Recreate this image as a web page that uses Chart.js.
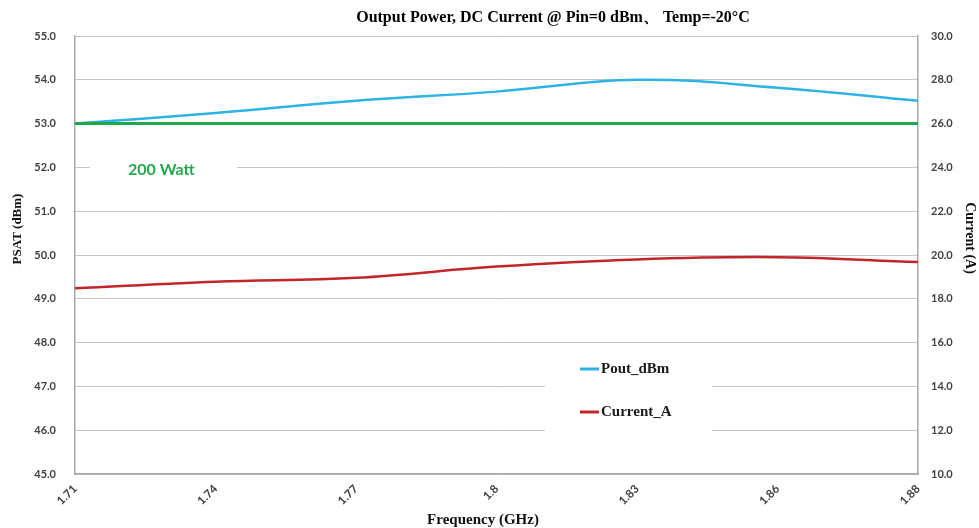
<!DOCTYPE html>
<html>
<head>
<meta charset="utf-8">
<script src="https://cdn.jsdelivr.net/npm/chart.js@4.4.1/dist/chart.umd.min.js"></script>
<style>
  html, body { margin: 0; padding: 0; background: #fff; }
  #wrap { width: 979px; height: 528px; position: relative; }
</style>
</head>
<body>
<div id="wrap"><canvas id="powerChart"></canvas></div>
<script>
const freqLabels = ["1.71", "1.74", "1.77", "1.8", "1.83", "1.86", "1.88"];
const poutDbm = [53.0, 53.24, 53.52, 53.73, 54.0, 53.82, 53.52];
const currentA = [18.48, 18.78, 18.96, 19.47, 19.8, 19.9, 19.68];
const watt200 = [53.0, 53.0, 53.0, 53.0, 53.0, 53.0, 53.0];

const titleText = "Output Power, DC Current @ Pin=0 dBm\u3001 Temp=-20\u00b0C";
const xTitle = "Frequency (GHz)";
const yTitle = "PSAT (dBm)";
const y1Title = "Current (A)";
const serif = "'Liberation Serif', 'DejaVu Serif', serif";
const sans = "Lato, 'Open Sans', sans-serif";

// titles, "200 Watt" note and in-plot legend
const overlayPlugin = {
  id: "overlay",
  afterDraw: function (chart) {
    let ctx = chart.ctx;
    ctx.save();
    ctx.textBaseline = "middle";

    ctx.fillStyle = "#000";
    ctx.font = "bold 16px " + serif;
    ctx.textAlign = "center";
    ctx.fillText(titleText, 553, 18);

    ctx.fillStyle = "#111";
    ctx.font = "bold 15px " + serif;
    ctx.fillText(xTitle, 483, 520);

    ctx.font = "bold 13px " + serif;
    ctx.save();
    ctx.translate(18, 229);
    ctx.rotate(-Math.PI / 2);
    ctx.fillText(yTitle, 0, 0);
    ctx.restore();

    ctx.font = "bold 14px " + serif;
    ctx.save();
    ctx.translate(970, 238);
    ctx.rotate(Math.PI / 2);
    ctx.fillText(y1Title, 0, 0);
    ctx.restore();

    // note box
    ctx.fillStyle = "#fff";
    ctx.fillRect(90, 156, 147, 26);
    ctx.fillStyle = "#22a84a";
    ctx.font = "bold 16px " + sans;
    ctx.textAlign = "left";
    ctx.fillText("200 Watt", 128, 170);

    // legend box
    ctx.fillStyle = "#fff";
    ctx.fillRect(545, 350, 167, 90);
    let items = chart.data.datasets.filter(function (d) { return !d.hideInLegend; });
    ctx.font = "bold 15px " + serif;
    items.forEach(function (d, i) {
      let y = 369 + i * 43;
      ctx.strokeStyle = d.borderColor;
      ctx.lineWidth = 3;
      ctx.beginPath();
      ctx.moveTo(580, y);
      ctx.lineTo(599, y);
      ctx.stroke();
      ctx.fillStyle = "#1a1a1a";
      ctx.fillText(d.label, 601, y);
    });
    ctx.restore();
  },
};

let ctx = document.getElementById("powerChart").getContext("2d");
let chart = new Chart(ctx, {
  type: "line",
  data: {
    labels: freqLabels,
    datasets: [
      {
        label: "Pout_dBm",
        data: poutDbm,
        yAxisID: "y",
        borderColor: "#2eb2e4",
        borderWidth: 2.5,
        pointRadius: 0,
        tension: 0.4,
        order: 2,
      },
      {
        label: "Current_A",
        data: currentA,
        yAxisID: "y1",
        borderColor: "#c0262c",
        borderWidth: 2.5,
        pointRadius: 0,
        tension: 0.4,
        order: 2,
      },
      {
        label: "200 Watt",
        data: watt200,
        yAxisID: "y",
        borderColor: "#1fa84c",
        borderWidth: 3,
        pointRadius: 0,
        hideInLegend: true,
        order: 1,
      },
    ],
  },
  options: {
    responsive: true,
    maintainAspectRatio: false,
    animation: false,
    layout: { padding: { top: 36, left: 0, right: 0, bottom: 0 } },
    plugins: {
      legend: { display: false },
      title: { display: false },
      tooltip: { enabled: false },
    },
    scales: {
      x: {
        offset: false,
        grid: { display: false, drawTicks: false },
        border: { display: true, color: "#a8a8a8", width: 1.5 },
        ticks: {
          color: "#404040",
          font: { family: sans, size: 11.5, weight: "bold" },
          maxRotation: 45,
          minRotation: 45,
          padding: 8,
          autoSkip: false,
        },
        afterFit: function (scale) { scale.height = 54; },
      },
      y: {
        position: "left",
        min: 45,
        max: 55,
        grid: { color: "#c4c4c4", lineWidth: 1, drawTicks: false },
        border: { display: true, color: "#a8a8a8", width: 1.5 },
        ticks: {
          stepSize: 1,
          color: "#404040",
          font: { family: sans, size: 11, weight: "bold" },
          padding: 19,
          callback: function (v) { return v.toFixed(1); },
        },
        afterFit: function (scale) { scale.width = 75; },
      },
      y1: {
        position: "right",
        min: 10,
        max: 30,
        grid: { drawOnChartArea: false, drawTicks: false },
        border: { display: true, color: "#a8a8a8", width: 1.5 },
        ticks: {
          stepSize: 2,
          color: "#404040",
          font: { family: sans, size: 11, weight: "bold" },
          padding: 13,
          callback: function (v) { return v.toFixed(1); },
        },
        afterFit: function (scale) { scale.width = 61; },
      },
    },
  },
  plugins: [overlayPlugin],
});
</script>
</body>
</html>
